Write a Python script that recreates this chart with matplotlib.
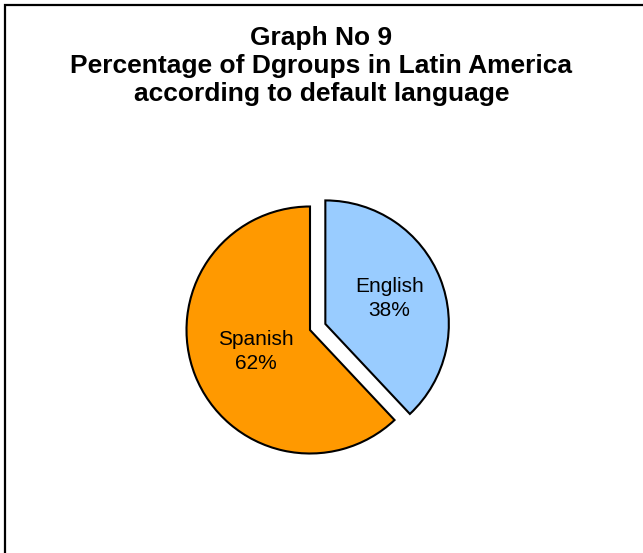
import matplotlib
matplotlib.use("Agg")
import matplotlib.pyplot as plt
from matplotlib.patches import Rectangle
import numpy as np

# Data
categories = ["English", "Spanish"]
percentages = [38, 62]
colors = ["#99CCFF", "#FF9900"]
title_lines = ["Graph No 9",
               "Percentage of Dgroups in Latin America",
               "according to default language"]

W, H = 643, 553
DPI = 100
fig = plt.figure(figsize=(W / DPI, H / DPI), dpi=DPI)
fig.patch.set_facecolor("white")

# Axes spanning the whole figure, one data unit per pixel (y upwards)
ax = fig.add_axes([0, 0, 1, 1])

radius = 123.5
center = (310, H - 330)
explode = [16.5, 0]

wedges, _ = ax.pie(percentages, colors=colors, startangle=90, counterclock=False,
                   radius=radius, center=center, explode=explode,
                   wedgeprops=dict(edgecolor="black", linewidth=1.5),
                   frame=True)
ax.set_xlim(0, W)
ax.set_ylim(0, H)
ax.set_aspect("equal")
ax.axis("off")

# Labels placed inside each wedge along its mid-angle
label_dist = [0.56, 0.47]
for w, cat, pct, d in zip(wedges, categories, percentages, label_dist):
    theta = np.deg2rad((w.theta1 + w.theta2) / 2)
    cx, cy = w.center
    ax.text(cx + d * radius * np.cos(theta), cy + d * radius * np.sin(theta),
            f"{cat}\n{pct}%", ha="center", va="center", fontsize=15,
            family="Liberation Sans", linespacing=1.35)

# Title
fig.text(0.5, 1 - 66 / H, "\n".join(title_lines), ha="center", va="center",
         fontsize=19, fontweight="bold", family="Liberation Sans",
         linespacing=1.2)

# Chart frame (top and left edges visible)
fig.patches.append(Rectangle((5 / W, -0.1), 1.2, 1 - 5 / H + 0.1,
                             transform=fig.transFigure, fill=False,
                             edgecolor="black", linewidth=1.6))

fig.savefig("out.png", dpi=DPI)
